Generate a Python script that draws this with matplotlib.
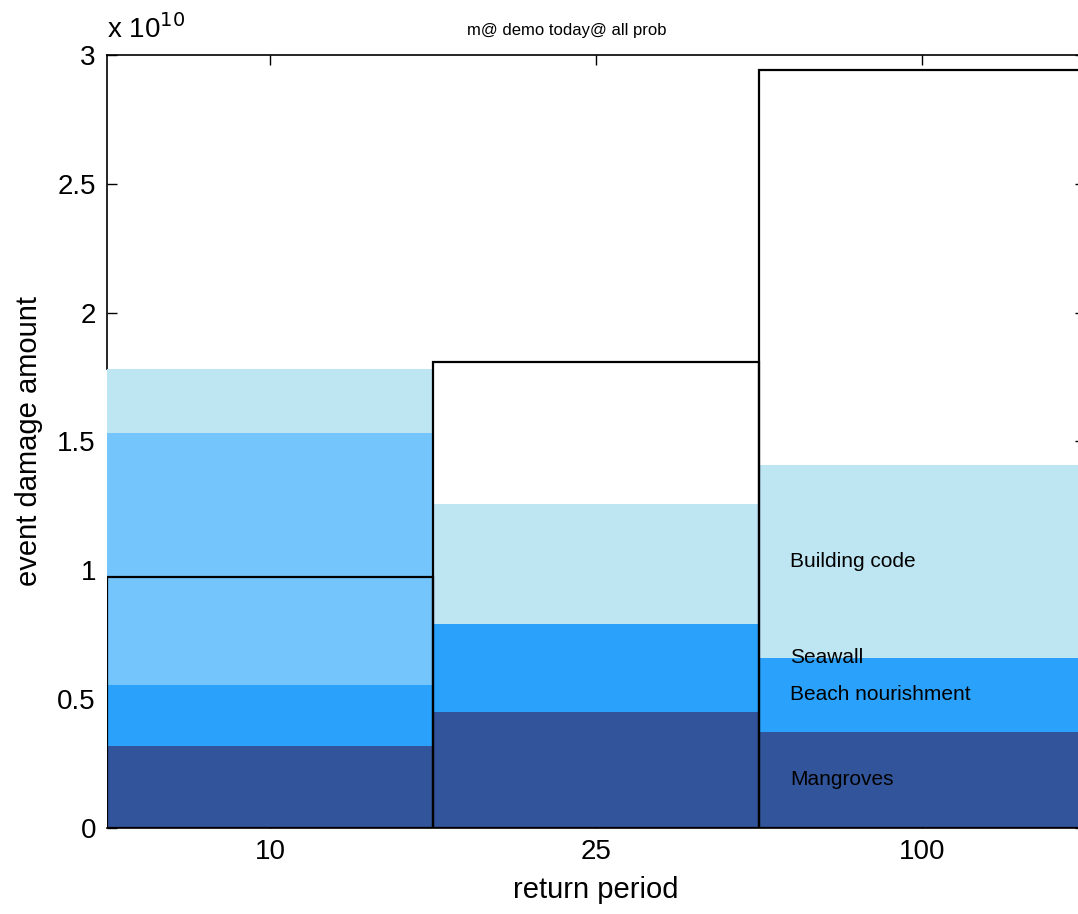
import numpy as np
import matplotlib
matplotlib.use("Agg")
import matplotlib.pyplot as plt
from matplotlib.ticker import FuncFormatter

return_periods = ["10", "25", "100"]
measures = ["Mangroves", "Beach nourishment", "Seawall", "Building code"]
# damage averted per measure (stacked), per return period
mangroves = [0.318e10, 0.450e10, 0.373e10]
beach_nourishment = [0.237e10, 0.342e10, 0.287e10]
seawall = [0.978e10, 0.0, 0.0]
building_code = [0.248e10, 0.465e10, 0.749e10]
# total event damage (outline bars)
event_damage = [0.974e10, 1.808e10, 2.942e10]

colors = ["#32549a", "#2aa2fc", "#74c5fb", "#bee5f2"]

plt.rcParams["font.family"] = ["Liberation Sans", "DejaVu Sans"]

fig = plt.figure(figsize=(10.78, 9.14), dpi=100)
W, H = 1078, 914
ax = fig.add_axes([107 / W, (H - 828) / H, (1085 - 107) / W, (828 - 55) / H])

x = np.arange(1, len(return_periods) + 1)
series = [mangroves, beach_nourishment, seawall, building_code]
bottom = np.zeros(len(x))
for vals, col in zip(series, colors):
    ax.bar(x, vals, width=1.0, bottom=bottom, color=col, linewidth=0, zorder=1)
    bottom = bottom + np.array(vals)

ax.bar(x, event_damage, width=1.0, facecolor="none", edgecolor="black",
       linewidth=1.6, zorder=2)

# labels next to the last bar, at the middle of each segment
last = len(x) - 1
base = 0.0
for name, vals in zip(measures, series):
    ax.text(x[last] - 0.405, base + vals[last] / 2, name, fontsize=15,
            va="center", ha="left", zorder=3)
    base += vals[last]

ax.set_xlim(0.5, 3.5)
ax.set_ylim(0, 3e10)
ax.set_xticks(x)
ax.set_xticklabels(return_periods)
ax.set_yticks(np.arange(0, 3.01e10, 0.5e10))
ax.yaxis.set_major_formatter(FuncFormatter(lambda v, p: "%g" % (v / 1e10)))

ax.set_axisbelow(True)
for s in ax.spines.values():
    s.set_zorder(0.5)
    s.set_linewidth(1.2)
# the first stacked bar hides the lower part of the left axis line
ax.spines["left"].set_bounds(bottom[0], 3e10)
ax.tick_params(direction="in", length=7, width=1.0, top=True, right=True,
               labelsize=20, pad=8)

ax.set_xlabel("return period", fontsize=21, labelpad=8)
ax.set_ylabel("event damage amount", fontsize=21, labelpad=10)

fig.text(107 / W, 1 - 38 / H, r"x 10$^{10}$", fontsize=20, ha="left", va="baseline")
fig.text(567 / W, 1 - 30 / H, "m@ demo today@ all prob", fontsize=12,
         ha="center", va="center")

fig.savefig("out.png", dpi=100)
